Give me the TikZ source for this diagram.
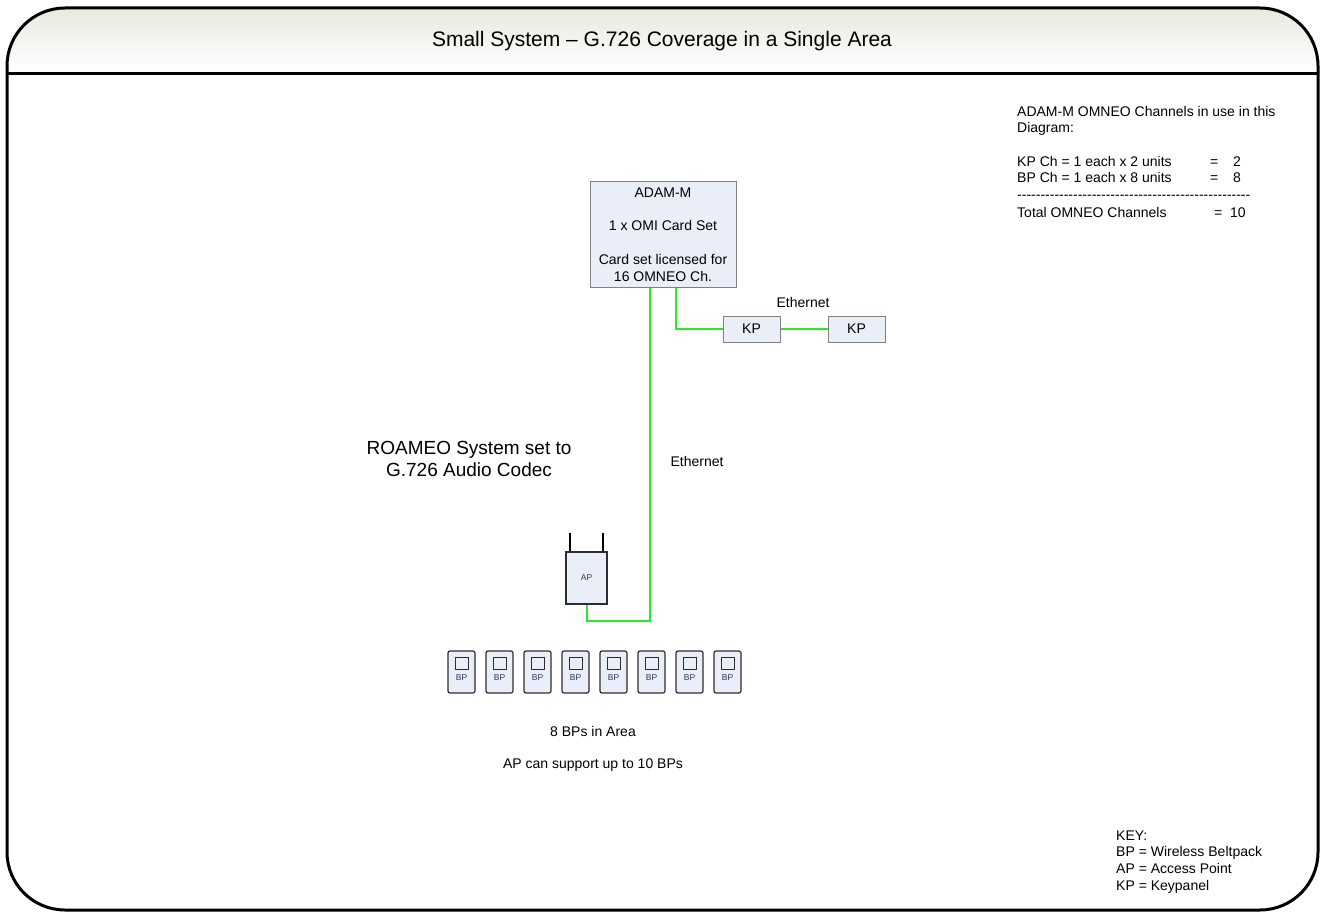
\documentclass[tikz,border=0pt]{standalone}
\usepackage{fontspec}
\setmainfont{Liberation Sans}
\definecolor{ethgreen}{RGB}{40,235,40}
\definecolor{boxfill}{RGB}{233,238,248}
\definecolor{boxgrey}{RGB}{128,128,128}
\definecolor{bpdark}{RGB}{45,45,45}
\definecolor{titletop}{RGB}{233,233,224}
\definecolor{smalltext}{RGB}{40,55,95}
\tikzset{
  eth/.style={draw=ethgreen, line width=2pt},
  unitbox/.style={draw=boxgrey, fill=boxfill, line width=1pt, inner sep=0pt},
  lbl/.style={font=\fontsize{14}{16.8}\selectfont, inner sep=0pt},
  biglbl/.style={font=\fontsize{19}{22}\selectfont, inner sep=0pt, align=center},
  bpbox/.style={draw=bpdark, fill=boxfill, line width=1.2pt, rounded corners=2pt, minimum width=27pt, minimum height=42pt, inner sep=0pt},
  bpscreen/.style={draw=bpdark, fill=boxfill, line width=1pt, minimum width=13pt, minimum height=12pt, inner sep=0pt},
  tinylbl/.style={font=\fontsize{8.5}{9}\selectfont, text=smalltext, inner sep=0pt},
  antenna/.style={draw=black, line width=2pt},
}
\begin{document}
\begin{tikzpicture}[x=1pt,y=-1pt]
\useasboundingbox (0,0) rectangle (1320,912);
% title bar shading
\shade[top color=titletop, bottom color=white]
  (7,74) [rounded corners=58pt] -- (7,8) -- (1318,8) [sharp corners] -- (1318,74) -- cycle;
% frame
\draw[line width=3pt, rounded corners=58pt] (7,8) rectangle (1318,910);
\draw[line width=3pt] (7,74) -- (1318,74);
\node[font=\fontsize{21}{25}\selectfont, inner sep=0pt] (title) at (662,41) {Small System -- G.726 Coverage in a Single Area};

% ADAM-M
\node[unitbox, minimum width=146pt, minimum height=105pt, align=center, font=\fontsize{14}{16.8}\selectfont] (adam) at (663,234.5)
  {ADAM-M\\[16.8pt]1 x OMI Card Set\\[16.8pt]Card set licensed for\\16 OMNEO Ch.};

% keypanels
\node[unitbox, minimum width=57pt, minimum height=26pt, font=\fontsize{14}{16.8}\selectfont] (kp1) at (751.5,329) {KP};
\node[unitbox, minimum width=57pt, minimum height=26pt, font=\fontsize{14}{16.8}\selectfont] (kp2) at (856.5,329) {KP};
\node[lbl] (eth1) at (803,302) {Ethernet};

% access point
\node[draw=bpdark, fill=boxfill, line width=1.5pt, minimum width=41pt, minimum height=52pt, inner sep=0pt] (ap) at (586.5,578) {};
\node[tinylbl] (aplbl) at (ap.center) {AP};
\coordinate (ant1b) at ([xshift=-16.5pt]ap.north);
\coordinate (ant2b) at ([xshift=16.5pt]ap.north);
\draw[antenna] (ant1b) -- ++(0,-18);
\draw[antenna] (ant2b) -- ++(0,-18);

% connectors
\draw[eth] ([xshift=13pt]adam.south) |- (kp1.west);
\draw[eth] (kp1.east) -- (kp2.west);
\draw[eth] ([xshift=-13pt]adam.south) |- ([yshift=-16pt]ap.south) -- (ap.south);
\node[lbl] (eth2) at (697,461) {Ethernet};

% ROAMEO label
\node[biglbl] (roameo) at (469,459) {ROAMEO System set to\\G.726 Audio Codec};

% beltpacks
\foreach \i in {1,...,8} {
  \pgfmathsetmacro\bx{461.5+38*(\i-1)}
  \node[bpbox] (bp\i) at (\bx,672) {};
  \node[bpscreen] (bps\i) at ([yshift=9pt]bp\i.center) {};
  \node[tinylbl] (bpl\i) at ([yshift=-5.5pt]bp\i.center) {BP};
}
\node[lbl] (area) at (593,731) {8 BPs in Area};
\node[lbl] (apsup) at (593,765) {AP can support up to 10 BPs};

% channel summary
\node[lbl, anchor=base west] (s1) at (1017,117) {ADAM-M OMNEO Channels in use in this};
\node[lbl, anchor=base west] (s2) at (1017,133) {Diagram:};
\node[lbl, anchor=base west] (s3) at (1017,167) {KP Ch = 1 each x 2 units};
\node[lbl, anchor=base west] (s3e) at (1210,167) {=};
\node[lbl, anchor=base west] (s3n) at (1233,167) {2};
\node[lbl, anchor=base west] (s4) at (1017,183) {BP Ch = 1 each x 8 units};
\node[lbl, anchor=base west] (s4e) at (1210,183) {=};
\node[lbl, anchor=base west] (s4n) at (1233,183) {8};
\node[lbl, anchor=base west] (s5) at (1017,200) {-{}-{}-{}-{}-{}-{}-{}-{}-{}-{}-{}-{}-{}-{}-{}-{}-{}-{}-{}-{}-{}-{}-{}-{}-{}-{}-{}-{}-{}-{}-{}-{}-{}-{}-{}-{}-{}-{}-{}-{}-{}-{}-{}-{}-{}-{}-{}-{}-{}-{}};
\node[lbl, anchor=base west] (s6) at (1017,218) {Total OMNEO Channels};
\node[lbl, anchor=base west] (s6e) at (1214,218) {=};
\node[lbl, anchor=base west] (s6n) at (1230,218) {10};

% key
\node[lbl, anchor=base west] (k1) at (1116,840) {KEY:};
\node[lbl, anchor=base west] (k2) at (1116,856.5) {BP = Wireless Beltpack};
\node[lbl, anchor=base west] (k3) at (1116,873) {AP = Access Point};
\node[lbl, anchor=base west] (k4) at (1116,890) {KP = Keypanel};
\end{tikzpicture}
\end{document}
